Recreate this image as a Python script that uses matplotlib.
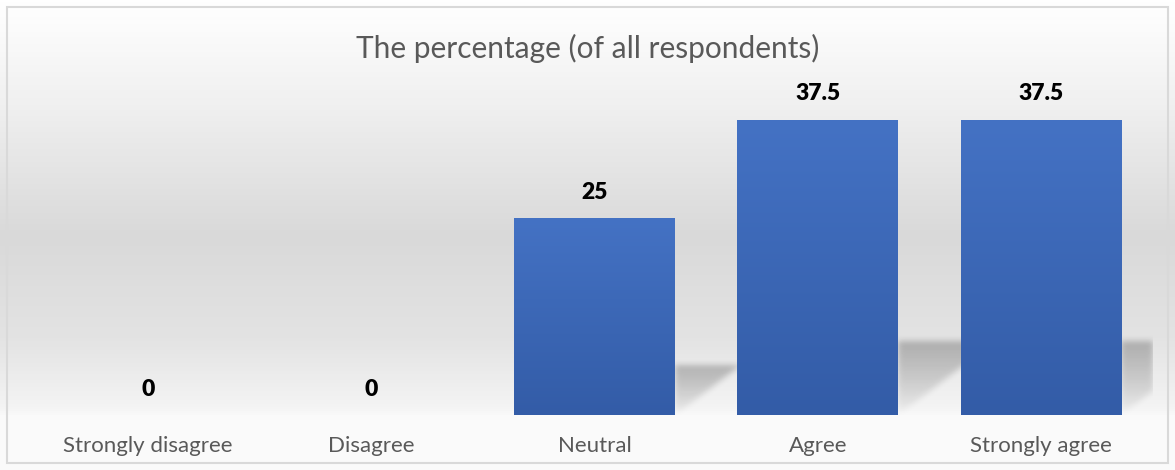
import numpy as np
import matplotlib
matplotlib.use("Agg")
import matplotlib.pyplot as plt
from matplotlib.colors import LinearSegmentedColormap
from matplotlib.patches import Rectangle

# ---- data ----
categories = ["Strongly disagree", "Disagree", "Neutral", "Agree", "Strongly agree"]
values = [0, 0, 25, 37.5, 37.5]
value_labels = ["0", "0", "25", "37.5", "37.5"]
title = "The percentage (of all respondents)"

plt.rcParams['font.family'] = ['Lato', 'DejaVu Sans']

FW, FH = 1175, 470
fig = plt.figure(figsize=(FW / 100, FH / 100), dpi=100)

# ---- background gradient ----
bg = fig.add_axes([0, 0, 1, 1], zorder=0)
bg.set_axis_off()
stops = [(0.0, "#ffffff"), (0.05, "#fcfcfc"), (0.22, "#f0f0f0"),
         (0.5, "#d9d9d9"), (0.72, "#e3e3e3"), (0.87, "#f4f4f4"),
         (0.885, "#fafafa"), (1.0, "#fafafa")]
bg_cmap = LinearSegmentedColormap.from_list("bg", stops)
grad = np.linspace(0, 1, 470).reshape(-1, 1)
bg.imshow(grad, cmap=bg_cmap, aspect='auto', extent=[0, 1, 0, 1], origin='upper',
          vmin=0, vmax=1)
bg.add_patch(Rectangle((7 / FW, 7 / FH), (1168 - 7) / FW, (463 - 7) / FH,
                       transform=fig.transFigure, fill=False,
                       edgecolor="#d9d9d9", linewidth=1.5))
bg.set_xlim(0, 1)
bg.set_ylim(0, 1)

# ---- main axes ----
left, right = 36.5, 1152.5
bottom_px, top_px = 415, 100
ax = fig.add_axes([left / FW, (FH - bottom_px) / FH, (right - left) / FW,
                   (bottom_px - top_px) / FH], zorder=1)
ax.patch.set_alpha(0)
ymax = 40
x = np.arange(len(categories))
width = 0.72

# shadows
W, H = 1116, 315
xs = np.linspace(-0.5, 4.5, W)
ys = np.linspace(0, ymax, H)
X, Y = np.meshgrid(xs, ys)
mask = np.zeros((H, W))
for xi, v in zip(x, values):
    if v <= 0:
        continue
    xr = xi + width / 2
    hs = 0.25 * v
    L = 0.0117 * v
    cond = (X >= xr) & (Y <= hs) & (Y >= (X - xr) * hs / L)
    mask[cond] = np.clip(Y[cond] / hs, 0, 1) ** 0.7


def blur(a, r):
    k = np.exp(-0.5 * (np.arange(-3 * r, 3 * r + 1) / r) ** 2)
    k /= k.sum()
    a = np.apply_along_axis(lambda m: np.convolve(m, k, mode='same'), 1, a)
    a = np.apply_along_axis(lambda m: np.convolve(m, k, mode='same'), 0, a)
    return a


mask = blur(mask, 3)
shadow = np.zeros((H, W, 4))
shadow[..., 3] = mask * 0.24
ax.imshow(shadow, extent=[-0.5, 4.5, 0, ymax], origin='lower', aspect='auto',
          zorder=1, interpolation='bilinear')

bars = ax.bar(x, values, width=width, color="#3d69b8", zorder=2)
bar_cmap = LinearSegmentedColormap.from_list("bar", ["#335ca7", "#4472c4"])
for b, v in zip(bars, values):
    if v <= 0:
        continue
    g = np.linspace(0, 1, 200).reshape(-1, 1)
    im = ax.imshow(g, cmap=bar_cmap, origin='lower', aspect='auto',
                   extent=[b.get_x(), b.get_x() + b.get_width(), 0, v], zorder=3)
    im.set_clip_path(b)

for xi, v, lab in zip(x, values, value_labels):
    ax.annotate(lab, (xi, v), xytext=(0, 18.5), textcoords='offset points',
                ha='center', va='center', fontsize=16.5, fontweight='heavy',
                color='black', zorder=4)

ax.set_xlim(-0.5, 4.5)
ax.set_ylim(0, ymax)
ax.set_xticks(x)
ax.set_xticklabels(categories, fontsize=16, color="#595959")
ax.tick_params(axis='x', length=0, pad=15)
ax.set_yticks([])
for s in ax.spines.values():
    s.set_visible(False)

fig.text(0.5, 1 - 48 / FH, title, ha='center', va='center', fontsize=21.5,
         color="#595959")

fig.savefig("out.png", dpi=100)
